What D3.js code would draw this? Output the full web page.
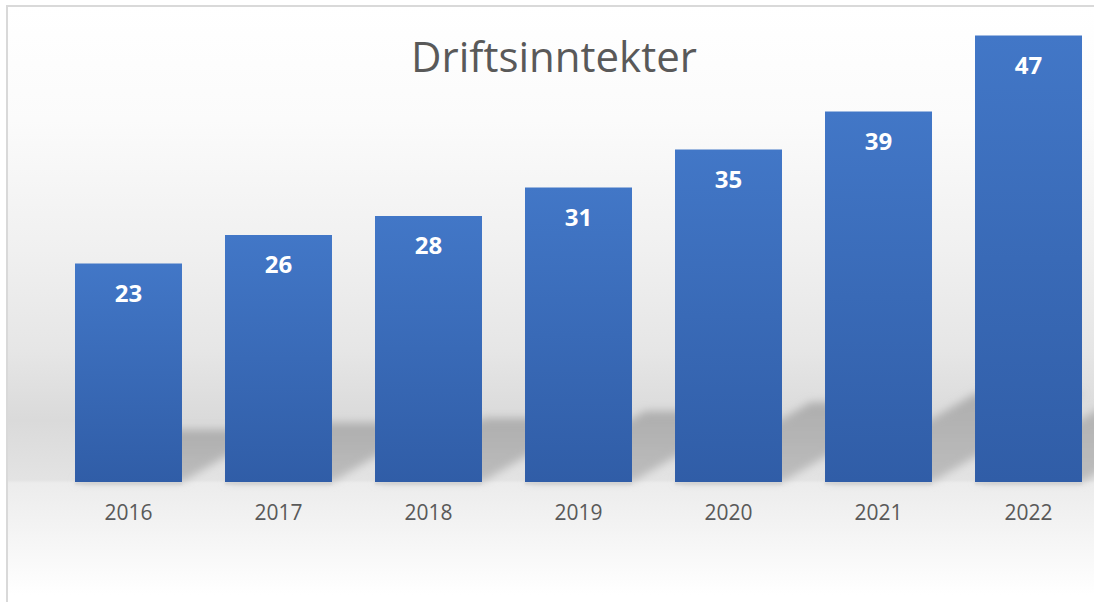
<!DOCTYPE html>
<html>
<head>
<meta charset="utf-8">
<script src="https://cdn.jsdelivr.net/npm/d3@7"></script>
<style>
  html, body { margin: 0; padding: 0; background: #ffffff; }
  svg { display: block; }
  text { font-family: "Open Sans", "Noto Sans", sans-serif; }
</style>
</head>
<body>
<svg id="chart" width="1094" height="602"></svg>
<script>
const title = "Driftsinntekter";
const categories = ["2016", "2017", "2018", "2019", "2020", "2021", "2022"];
const values = [23, 26, 28, 31, 35, 39, 47];

const W = 1094, H = 602;
const svg = d3.select("#chart");
const defs = svg.append("defs");

// background gradient of chart area
const bg = defs.append("linearGradient").attr("id", "bgGrad")
  .attr("gradientUnits", "userSpaceOnUse")
  .attr("x1", 0).attr("y1", 6).attr("x2", 0).attr("y2", 602);
[[6, "#ffffff"], [120, "#fbfbfb"], [250, "#f0f0f0"], [350, "#e6e6e6"],
 [420, "#dadada"], [480, "#e3e3e3"], [483, "#ececec"], [520, "#f2f2f2"], [595, "#ffffff"]]
  .forEach(([y, c]) => bg.append("stop").attr("offset", ((y - 6) / 596)).attr("stop-color", c));

// bar gradient
const bar = defs.append("linearGradient").attr("id", "barGrad")
  .attr("x1", 0).attr("y1", 0).attr("x2", 0).attr("y2", 1);
bar.append("stop").attr("offset", 0).attr("stop-color", "#4277c7");
bar.append("stop").attr("offset", 1).attr("stop-color", "#305da7");

// shadow gradient (darker at far end)
const sg = defs.append("linearGradient").attr("id", "shGrad")
  .attr("x1", 0).attr("y1", 0).attr("x2", 0).attr("y2", 1);
sg.append("stop").attr("offset", 0).attr("stop-color", "#aeaeae");
sg.append("stop").attr("offset", 1).attr("stop-color", "#bdbdbd");

// blur filter for shadows
const f = defs.append("filter").attr("id", "blur")
  .attr("x", "-50%").attr("y", "-50%").attr("width", "200%").attr("height", "200%");
f.append("feGaussianBlur").attr("stdDeviation", 4);
const f2 = defs.append("filter").attr("id", "blur2")
  .attr("x", "-20%").attr("y", "-200%").attr("width", "140%").attr("height", "500%");
f2.append("feGaussianBlur").attr("stdDeviation", 1);

// chart frame
svg.append("rect").attr("x", 7).attr("y", 6).attr("width", W + 20).attr("height", H + 20)
  .attr("fill", "url(#bgGrad)").attr("stroke", "#d9d9d9").attr("stroke-width", 2);

// scales
const x = d3.scaleBand().domain(categories).range([53.5, 1103.5])
  .paddingInner(0.2867).paddingOuter(0.1433);
const y = d3.scaleLinear().domain([0, 50]).range([482, 7]);
const base = y(0);

const data = categories.map((c, i) => ({ c, v: values[i] }));

// perspective shadows
const shadowRatio = 0.24, skew = 1.7;
svg.append("g").attr("filter", "url(#blur)")
  .selectAll("path").data(data).join("path")
  .attr("d", d => {
    const x0 = x(d.c), x1 = x0 + x.bandwidth();
    const hs = (base - y(d.v)) * shadowRatio;
    return `M${x0},${base} L${x1},${base} L${x1 + skew * hs},${base - hs} L${x0 + skew * hs},${base - hs} Z`;
  })
  .attr("fill", "url(#shGrad)");

// small contact shadow under bars
svg.append("g").attr("filter", "url(#blur2)")
  .selectAll("rect").data(data).join("rect")
  .attr("x", d => x(d.c)).attr("y", base).attr("width", x.bandwidth()).attr("height", 2.5)
  .attr("fill", "#d2d2d2");

// bars
svg.append("g").selectAll("rect").data(data).join("rect")
  .attr("x", d => x(d.c)).attr("y", d => y(d.v))
  .attr("width", x.bandwidth()).attr("height", d => base - y(d.v))
  .attr("fill", "url(#barGrad)");

// value labels
svg.append("g").selectAll("text").data(data).join("text")
  .attr("x", d => x(d.c) + x.bandwidth() / 2).attr("y", d => y(d.v) + 38)
  .attr("text-anchor", "middle").attr("fill", "#ffffff")
  .attr("font-size", 24).attr("font-weight", "bold")
  .text(d => d.v);

// x axis
const ax = svg.append("g").attr("transform", `translate(0,${base})`)
  .call(d3.axisBottom(x).tickSize(0));
ax.select(".domain").remove();
ax.selectAll("text").attr("y", 38).attr("dy", 0)
  .attr("fill", "#595959").attr("font-size", 21)
  .attr("font-family", "'Open Sans', 'Noto Sans', sans-serif");

// title
svg.append("text").attr("x", 554).attr("y", 72).attr("text-anchor", "middle")
  .attr("fill", "#595959").attr("font-size", 42).text(title);
</script>
</body>
</html>
